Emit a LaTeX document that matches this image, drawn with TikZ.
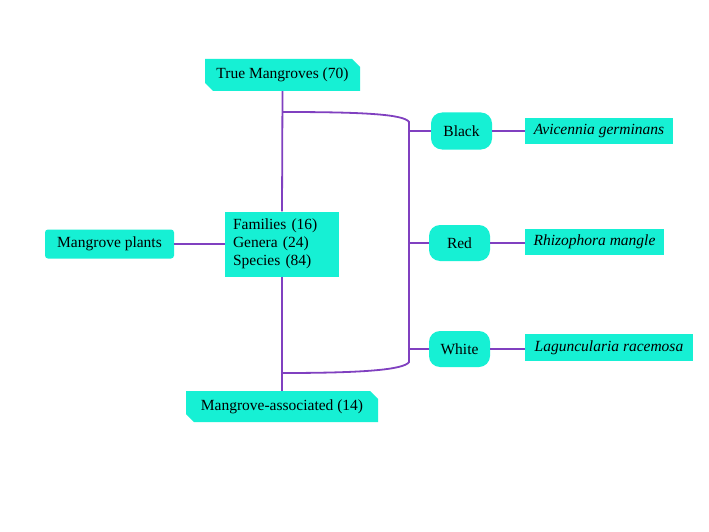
\documentclass[tikz,border=0pt]{standalone}
\usepackage{fontspec}
\setmainfont{Liberation Serif}
\usetikzlibrary{shapes.misc}
\definecolor{boxfill}{RGB}{22,240,212}
\definecolor{linkcol}{RGB}{128,64,192}
\begin{document}
\begin{tikzpicture}[x=1pt,y=-1pt,
  every node/.style={font=\fontsize{15.5}{18}\selectfont, text=black, inner sep=0pt},
  chbox/.style={chamfered rectangle, chamfered rectangle corners={north east,south west}, chamfered rectangle xsep=4pt, chamfered rectangle ysep=4pt, fill=boxfill, draw=none},
  rbox/.style={rectangle, rounded corners=3pt, fill=boxfill},
  pill/.style={rectangle, rounded corners=11pt, fill=boxfill},
  sqbox/.style={rectangle, fill=boxfill},
  link/.style={draw=linkcol, line width=1.8pt}]
\useasboundingbox (0,0) rectangle (709,532);
\fill[white] (0,0) rectangle (709,532);

\node[chbox, minimum width=155pt, minimum height=32pt] (tm) at (282.5,75) {True Mangroves (70)};
\node[rbox, minimum width=129pt, minimum height=29pt] (mp) at (109.5,244) {Mangrove plants};
\node[sqbox, minimum width=114pt, minimum height=65pt, inner xsep=8pt, text width=98pt, align=left] (fam) at (282,244) {Families (16)\\Genera (24)\\Species (84)};
\node[chbox, minimum width=192pt, minimum height=31pt] (ma) at (282,406.5) {Mangrove-associated (14)};

\node[pill, minimum width=61pt, minimum height=37pt] (bl) at (461.5,131) {Black};
\node[pill, minimum width=61pt, minimum height=36pt] (rd) at (459.5,243) {Red};
\node[pill, minimum width=61pt, minimum height=36pt] (wh) at (459.5,349) {White};

\node[sqbox, minimum width=148pt, minimum height=26pt] (av) at (599,131) {\itshape Avicennia germinans};
\node[sqbox, minimum width=139pt, minimum height=26pt] (rh) at (594.5,241.5) {\itshape Rhizophora mangle};
\node[sqbox, minimum width=168pt, minimum height=27pt] (la) at (609,347.5) {\itshape Laguncularia racemosa};

\coordinate (jt) at (282.5,112);
\coordinate (jb) at (282.5,373);
\coordinate (vt) at (409,122);
\coordinate (vb) at (409,362);
\coordinate (cb) at (409,131);
\coordinate (cr) at (409,243);
\coordinate (cw) at (409,349);

\draw[link] (tm.south) -- (fam.north);
\draw[link] (fam.south) -- (ma.north);
\draw[link] (mp.east) -- (fam.west);
\draw[link] (jt) .. controls (360,112) and (404,114) .. (vt) -- (vb) .. controls (404,370) and (360,373) .. (jb);
\draw[link] (cb) -- (bl.west);
\draw[link] (cr) -- (rd.west);
\draw[link] (cw) -- (wh.west);
\draw[link] (bl.east) -- (bl.east -| av.west);
\draw[link] (rd.east) -- (rd.east -| rh.west);
\draw[link] (wh.east) -- (wh.east -| la.west);
\end{tikzpicture}
\end{document}
